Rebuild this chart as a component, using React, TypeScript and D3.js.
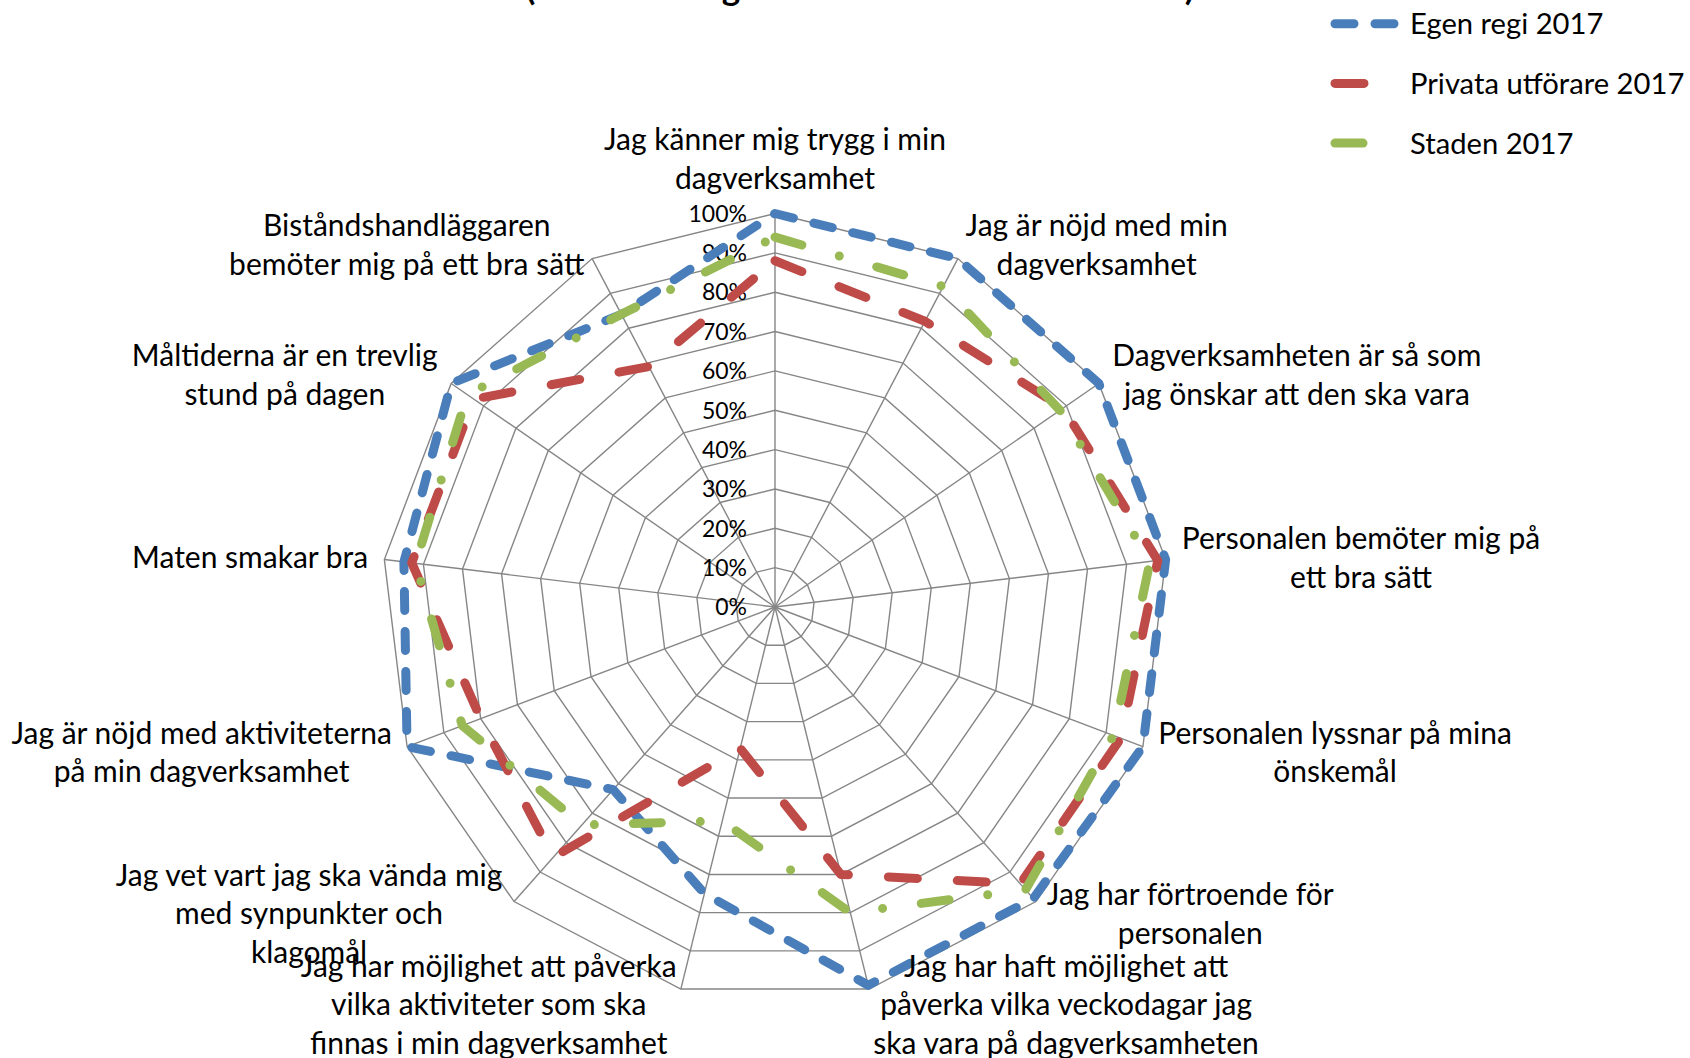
import React from 'react';
import * as d3 from 'd3';

// ---------- data ----------
const categories: string[] = [
  'Jag känner mig trygg i min\ndagverksamhet',
  'Jag är nöjd med min\ndagverksamhet',
  'Dagverksamheten är så som\njag önskar att den ska vara',
  'Personalen bemöter mig på\nett bra sätt',
  'Personalen lyssnar på mina\nönskemål',
  'Jag har förtroende för\npersonalen',
  'Jag har haft möjlighet att\npåverka vilka veckodagar jag\nska vara på dagverksamheten',
  'Jag har möjlighet att påverka\nvilka aktiviteter som ska\nfinnas i min dagverksamhet',
  'Jag vet vart jag ska vända mig\nmed synpunkter och\nklagomål',
  'Jag är nöjd med aktiviteterna\npå min dagverksamhet',
  'Maten smakar bra',
  'Måltiderna är en trevlig\nstund på dagen',
  'Biståndshandläggaren\nbemöter mig på ett bra sätt',
];

const egenRegi2017: number[] = [100, 100, 100, 100, 100, 99, 99, 75, 62, 100, 95, 100, 84];
const privataUtforare2017: number[] = [88, 82, 89, 98, 94, 94, 70, 37, 85, 80, 93, 93, 69];
const staden2017: number[] = [94, 92, 88, 96, 92, 96, 80, 56, 74, 85, 92, 95, 84];

const seriesNames: string[] = ['Egen regi 2017', 'Privata utförare 2017', 'Staden 2017'];
const tickValues: number[] = [0, 10, 20, 30, 40, 50, 60, 70, 80, 90, 100];
const titleText = '(Andel i stor grad eller helt och hållet 2017)';

// ---------- layout / style ----------
const W = 1690;
const H = 1058;
const CX = 775;
const CY = 607;
const R = 393.5;
const FONT = 'Lato, "Open Sans", sans-serif';
const LABEL_SIZE = 30;
const LEGEND_SIZE = 29.2;
const LINE_H = 38.8;
const TICK_SIZE = 23;
const GRID = '#868686';
const SW = 9;

const seriesStyles = [
  { color: '#4A7EBB', dash: '19 21' },
  { color: '#BE4B48', dash: '29 40' },
  { color: '#98B954', dash: '28 39 0 39' },
];

let ctx: CanvasRenderingContext2D | null = null;
function measure(text: string, size: number, weight = 'normal'): number {
  if (!ctx) {
    const c = document.createElement('canvas');
    ctx = c.getContext('2d');
  }
  if (!ctx) return text.length * size * 0.5;
  ctx.font = `${weight} ${size}px Lato`;
  return ctx.measureText(text).width;
}

export default function App() {
  const n = categories.length;
  const angle = d3
    .scaleLinear()
    .domain([0, n])
    .range([0, 2 * Math.PI]);
  const r = d3.scaleLinear().domain([0, 100]).range([0, R]);

  const radial = d3
    .lineRadial<number>()
    .angle((_d, i) => angle(i))
    .radius((d) => r(d))
    .curve(d3.curveLinearClosed);

  const allSeries = [egenRegi2017, privataUtforare2017, staden2017];

  const rings = tickValues.slice(1).map((t) => radial(categories.map(() => t)) as string);

  const pt = (i: number, v: number) => {
    const a = angle(i);
    return [CX + r(v) * Math.sin(a), CY - r(v) * Math.cos(a)];
  };

  const labels = categories.map((cat, i) => {
    const lines = cat.split('\n');
    const a = angle(i);
    const s = Math.sin(a);
    const c = Math.cos(a);
    const rr = R + 16;
    const ax = CX + rr * s;
    const ay = CY - rr * c;
    const bw = Math.max(...lines.map((l) => measure(l, LABEL_SIZE)));
    const bh = lines.length * LINE_H;
    let bx: number;
    let by: number;
    if (Math.abs(s) < 0.02) {
      bx = ax;
      by = c > 0 ? ay - bh / 2 : ay + bh / 2;
    } else {
      bx = s > 0 ? ax + bw / 2 : ax - bw / 2;
      by = ay;
    }
    return { lines, bx, by };
  });

  return (
    <svg
      width={W}
      height={H}
      viewBox={`0 0 ${W} ${H}`}
      style={{ position: 'absolute', left: 0, top: 0, display: 'block', background: '#fff' }}
      fontFamily={FONT}
    >
      <rect x={0} y={0} width={W} height={H} fill="#fff" />
      {/* title (mostly cropped at the top) */}
      <text x={860} y={0} textAnchor="middle" fontSize={35} fontWeight="bold" fill="#000">
        {titleText}
      </text>

      <g transform={`translate(${CX},${CY})`}>
        {rings.map((d, i) => (
          <path key={i} d={d} fill="none" stroke={GRID} strokeWidth={1.4} />
        ))}
      </g>
      {categories.map((_c, i) => {
        const [x, y] = pt(i, 100);
        return <line key={i} x1={CX} y1={CY} x2={x} y2={y} stroke={GRID} strokeWidth={1.4} />;
      })}

      {tickValues.map((t) => (
        <text
          key={t}
          x={CX - 28}
          y={CY - r(t)}
          dy="0.36em"
          textAnchor="end"
          fontSize={TICK_SIZE}
          fill="#000"
        >
          {`${t}%`}
        </text>
      ))}

      <g transform={`translate(${CX},${CY})`}>
        {allSeries.map((vals, si) => (
          <path
            key={si}
            d={radial(vals) as string}
            fill="none"
            stroke={seriesStyles[si].color}
            strokeWidth={SW}
            strokeDasharray={seriesStyles[si].dash}
            strokeLinecap="round"
            strokeLinejoin="round"
          />
        ))}
      </g>

      {labels.map((lb, i) => (
        <g key={i}>
          {lb.lines.map((l, j) => (
            <text
              key={j}
              x={lb.bx}
              y={lb.by + (j - (lb.lines.length - 1) / 2) * LINE_H}
              dy="0.36em"
              textAnchor="middle"
              fontSize={LABEL_SIZE}
              fill="#000"
            >
              {l}
            </text>
          ))}
        </g>
      ))}

      {seriesNames.map((name, i) => {
        const y = 23.7 + i * 59.7;
        return (
          <g key={name}>
            <line
              x1={1335}
              x2={1395}
              y1={y}
              y2={y}
              stroke={seriesStyles[i].color}
              strokeWidth={SW}
              strokeDasharray={seriesStyles[i].dash}
              strokeLinecap="round"
            />
            <text x={1410} y={y} dy="0.36em" fontSize={LEGEND_SIZE} fill="#000">
              {name}
            </text>
          </g>
        );
      })}
    </svg>
  );
}
